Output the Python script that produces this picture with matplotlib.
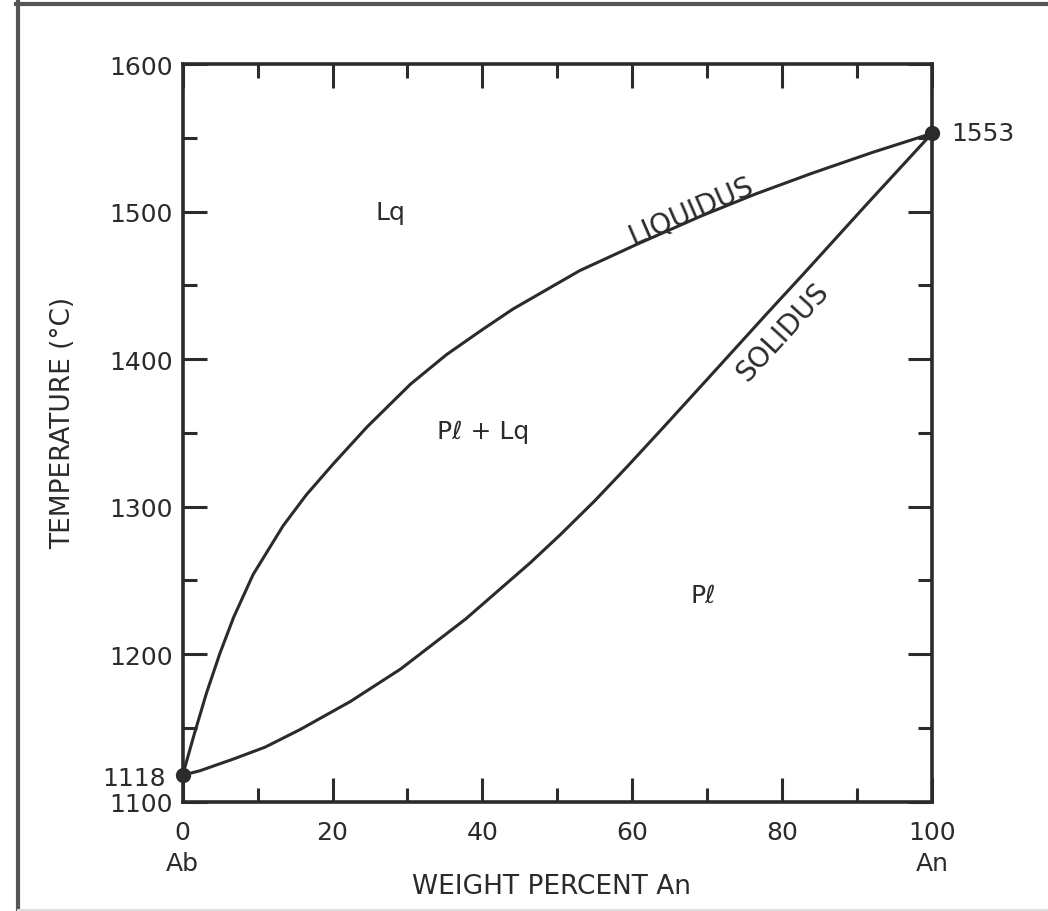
import matplotlib.pyplot as plt
from matplotlib.lines import Line2D

# Ab-An (plagioclase) binary loop
liquidus_x = [0, 1.5, 3.2, 5.0, 6.8, 9.4, 13.4, 16.5, 20.1, 24.6, 30.4, 35.2, 40.0, 44.1,
              53.0, 60.7, 69.2, 76.5, 84.0, 92.0, 100]
liquidus_t = [1118, 1145, 1174, 1201, 1225, 1254, 1287, 1308, 1329, 1354, 1383, 1403, 1420, 1434,
              1460, 1478, 1497, 1512, 1526, 1540, 1553]

solidus_x = [0, 2.3, 6.8, 11.0, 15.7, 22.4, 29.1, 37.8, 46.4, 50.4, 55.0, 59.3, 64.2, 69.95,
             78.0, 82.9, 91.3, 100]
solidus_t = [1118, 1121, 1129, 1137, 1149, 1168, 1190, 1224, 1262, 1281, 1304, 1327, 1354, 1386,
             1431, 1458, 1505, 1553]

melt_x = [0, 100]
melt_t = [1118, 1553]

x_ticks = [0, 20, 40, 60, 80, 100]
x_ticklabels = ['0\nAb', '20', '40', '60', '80', '100\nAn']
x_minor = [10, 30, 50, 70, 90]
y_ticks = [1100, 1200, 1300, 1400, 1500, 1600]
y_minor = [1150, 1250, 1350, 1450, 1550]

ink = '#2b2b2b'

fig = plt.figure(figsize=(10.48, 9.12), dpi=100)
ax = fig.add_axes([0.1743, 0.1198, 0.7150, 0.8089])

ax.plot(liquidus_x, liquidus_t, color=ink, lw=2.2, solid_joinstyle='round')
ax.plot(solidus_x, solidus_t, color=ink, lw=2.2, solid_joinstyle='round')
ax.plot(melt_x, melt_t, 'o', ms=10, color=ink, clip_on=False, zorder=5)

ax.set_xlim(0, 100)
ax.set_ylim(1100, 1600)
ax.set_xticks(x_ticks)
ax.set_xticklabels(x_ticklabels)
ax.set_xticks(x_minor, minor=True)
ax.set_yticks(y_ticks)
ax.set_yticks(y_minor, minor=True)

for s in ax.spines.values():
    s.set_linewidth(2.6)
    s.set_color(ink)

ax.tick_params(which='both', direction='in', top=True, right=True, width=2.2, color=ink)
ax.tick_params(which='major', length=17)
ax.tick_params(which='minor', length=10)
ax.tick_params(axis='x', pad=13, labelsize=18, labelcolor=ink)
ax.tick_params(axis='y', pad=7, labelsize=18, labelcolor=ink)
for lab in ax.get_xticklabels():
    lab.set_linespacing(1.4)

# melting points
ax.text(-2.3, 1116, '1118', ha='right', va='center', fontsize=18, color=ink, clip_on=False)
ax.text(102.6, 1553, '1553', ha='left', va='center', fontsize=18, color=ink, clip_on=False)

# phase fields
ax.text(27.7, 1500, 'Lq', ha='center', va='center', fontsize=18, color=ink)
ax.text(40.1, 1351, 'Pℓ + Lq', ha='center', va='center', fontsize=18, color=ink)
ax.text(69.5, 1240, 'Pℓ', ha='center', va='center', fontsize=18, color=ink)
ax.text(67.8, 1501, 'LIQUIDUS', ha='center', va='center', fontsize=20, color=ink,
        rotation=23.5, rotation_mode='anchor')
ax.text(80.0, 1419, 'SOLIDUS', ha='center', va='center', fontsize=20, color=ink,
        rotation=47.5, rotation_mode='anchor')

fig.text(552 / 1048, 1 - 887 / 912, 'WEIGHT PERCENT An', ha='center', va='center',
         fontsize=19, color=ink)
fig.text(63 / 1048, 1 - 423 / 912, 'TEMPERATURE (°C)', ha='center', va='center',
         rotation=90, fontsize=19, color=ink)

# scanned page border
fig.add_artist(Line2D([18 / 1048, 18 / 1048], [0, 1 - 3 / 912], transform=fig.transFigure,
                      color='#555555', lw=3))
fig.add_artist(Line2D([16 / 1048, 1], [1 - 4.5 / 912, 1 - 4.5 / 912], transform=fig.transFigure,
                      color='#555555', lw=3))
fig.add_artist(Line2D([18 / 1048, 1], [1.5 / 912, 1.5 / 912], transform=fig.transFigure,
                      color='#dddddd', lw=1.5))

fig.savefig('out.png', dpi=100)
